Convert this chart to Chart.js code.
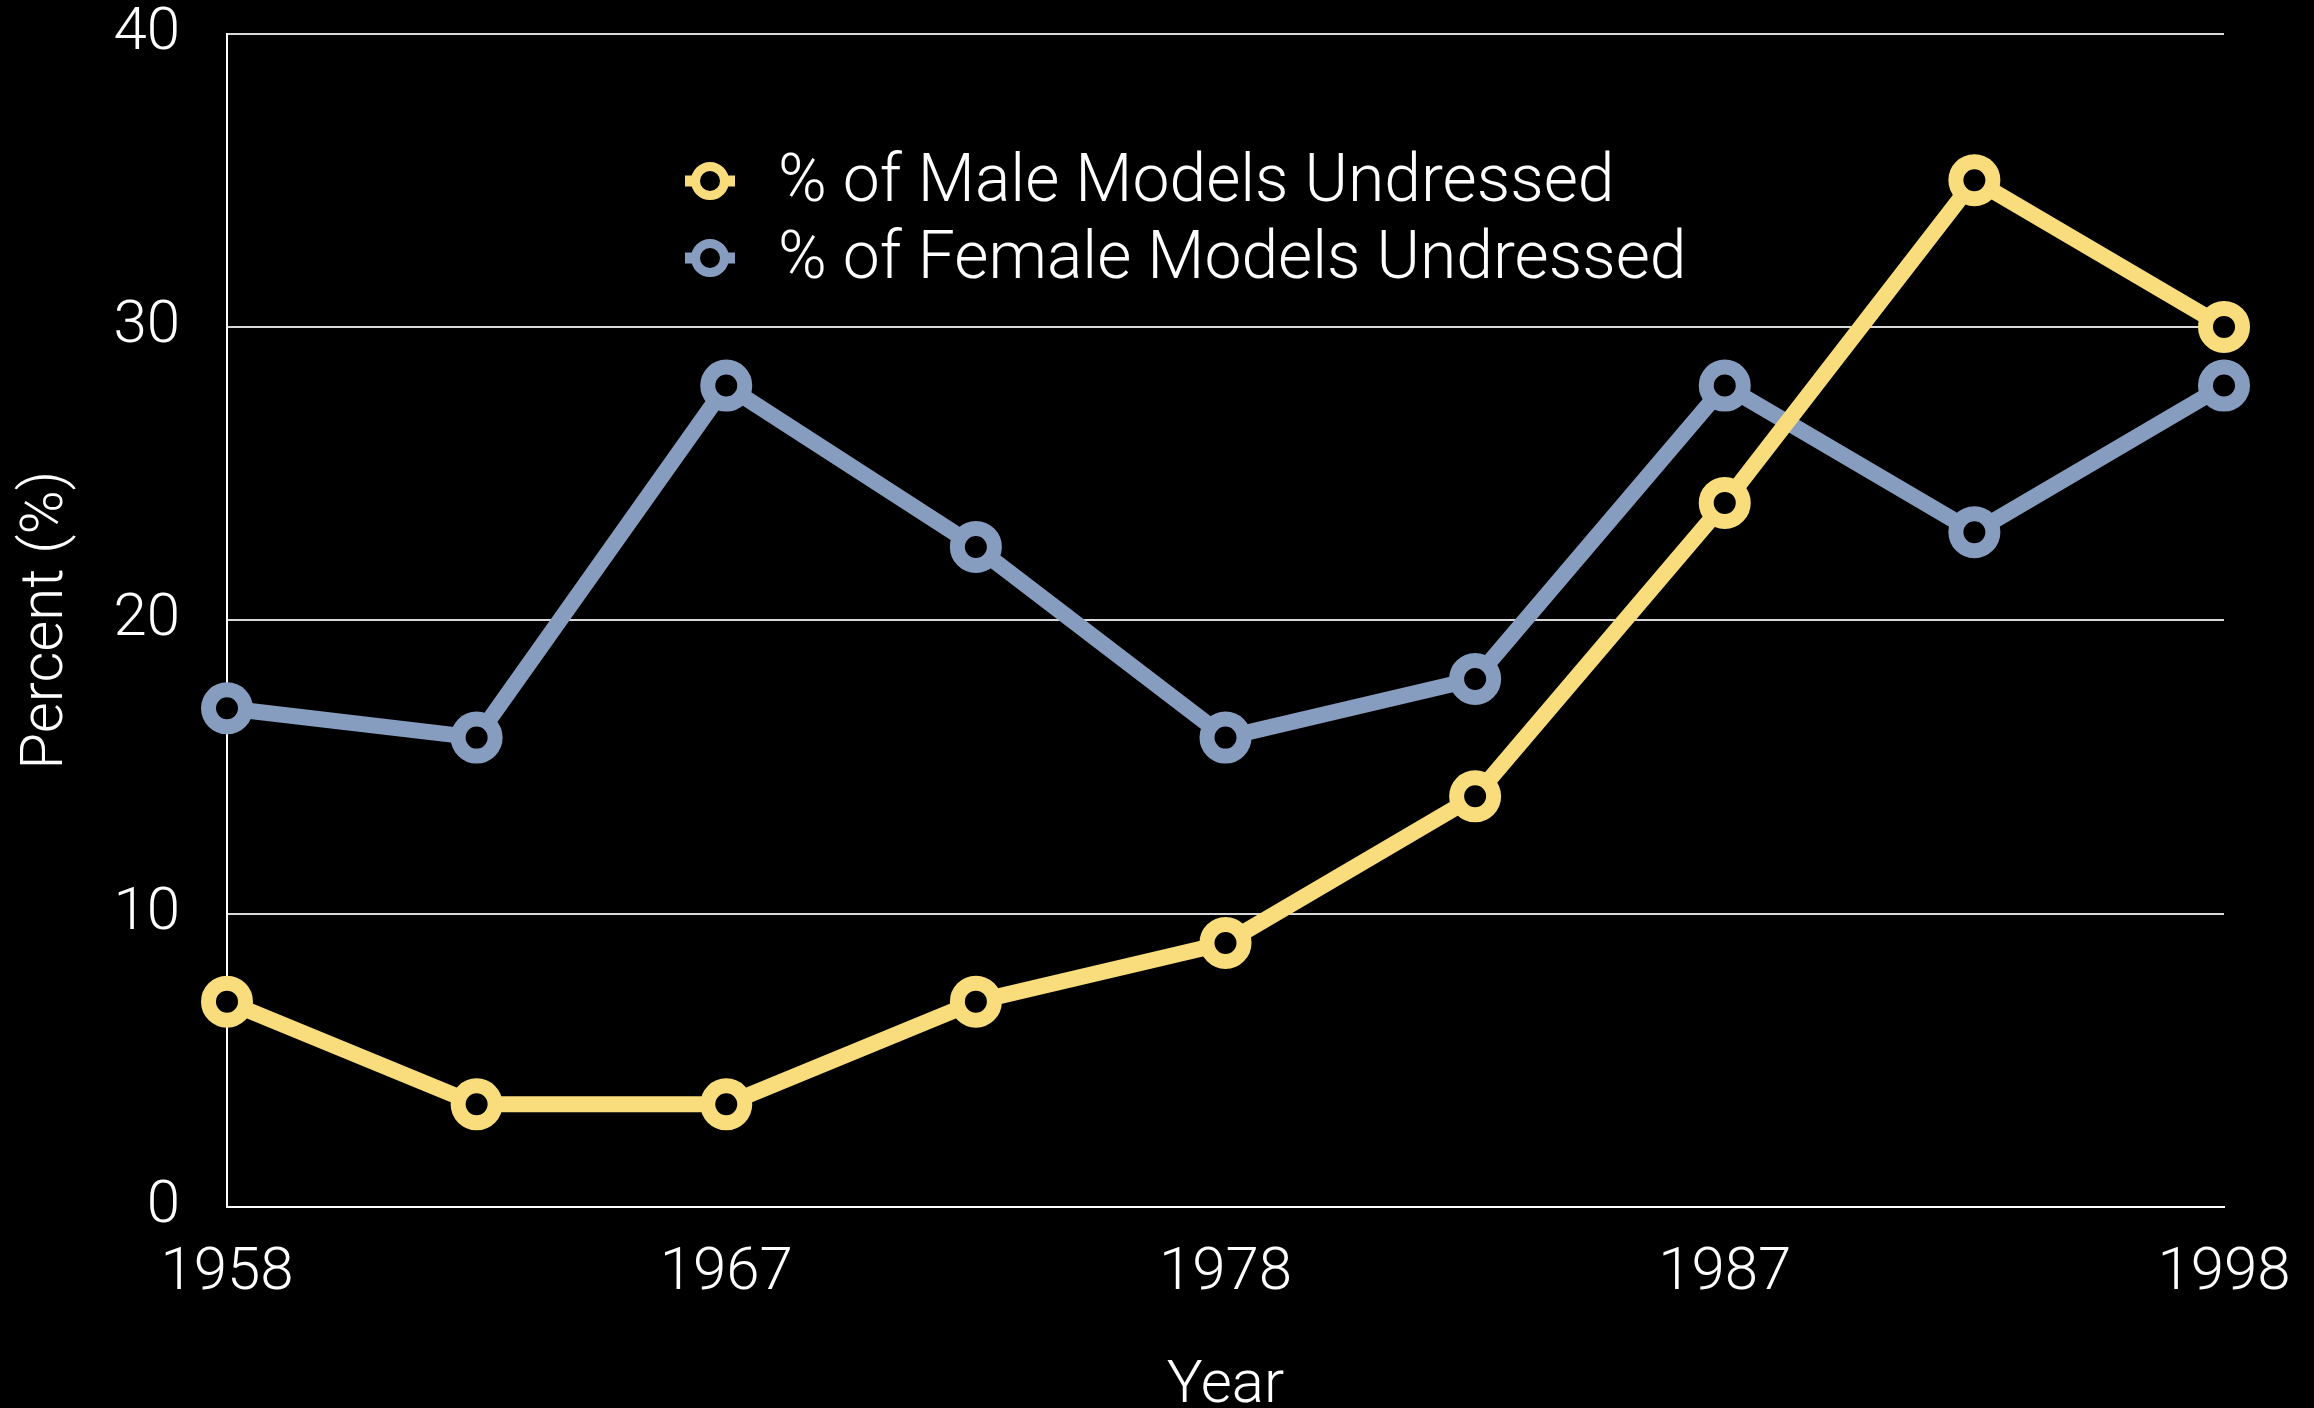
<!DOCTYPE html>
<html>
<head>
<meta charset="utf-8">
<script src="https://cdn.jsdelivr.net/npm/chart.js@4/dist/chart.umd.min.js"></script>
<style>
  html, body { margin: 0; padding: 0; background: #000; }
  #wrap { width: 2314px; height: 1408px; position: relative; }
  canvas { display: block; }
</style>
</head>
<body>
<div id="wrap"><canvas id="c" width="2314" height="1408"></canvas></div>
<script>
// ---- data ----
const xLabels = ['1958', '', '1967', '', '1978', '', '1987', '', '1998'];
const maleValues = [7, 3.5, 3.5, 7, 9, 14, 24, 35, 30];
const femaleValues = [17, 16, 28, 22.5, 16, 18, 28, 23, 28];
const yTicks = [0, 10, 20, 30, 40];
const seriesNames = ['% of Male Models Undressed', '% of Female Models Undressed'];
const xTitle = 'Year';
const yTitle = 'Percent (%)';

// ---- style ----
const FONT = 'Roboto, "Helvetica Neue", "Liberation Sans", sans-serif';
const YELLOW = '#F9DC7C';
const BLUE = '#879DC0';
const CLEAR = 'rgba(0,0,0,0)';

const legendPlugin = {
  id: 'insideLegend',
  afterDraw(chart) {
    const ctx = chart.ctx;
    const items = chart.data.datasets;
    const x0 = 710, rows = [181, 258], textX = 778;
    ctx.save();
    items.forEach((ds, i) => {
      const y = rows[i];
      ctx.strokeStyle = ds.borderColor;
      ctx.lineWidth = 11;
      ctx.beginPath();
      ctx.moveTo(x0 - 25, y);
      ctx.lineTo(x0 + 25, y);
      ctx.stroke();
      ctx.beginPath();
      ctx.arc(x0, y, 14.5, 0, Math.PI * 2);
      ctx.fillStyle = '#000';
      ctx.fill();
      ctx.lineWidth = 9;
      ctx.stroke();
      ctx.fillStyle = '#fff';
      ctx.font = '300 66px ' + FONT;
      ctx.textBaseline = 'middle';
      ctx.textAlign = 'left';
      ctx.fillText(ds.label, textX, y + 3);
    });
    ctx.restore();
  }
};

const mk = (label, data, color) => ({
  label, data,
  borderColor: color,
  backgroundColor: color,
  borderWidth: 16,
  pointRadius: 18.5,
  pointHoverRadius: 18.5,
  pointBorderWidth: 15,
  pointBackgroundColor: '#000',
  pointBorderColor: color,
  tension: 0,
  clip: false,
  fill: false
});

new Chart(document.getElementById('c'), {
  type: 'line',
  data: {
    labels: xLabels,
    datasets: [
      mk(seriesNames[0], maleValues, YELLOW),
      mk(seriesNames[1], femaleValues, BLUE)
    ]
  },
  options: {
    responsive: false,
    animation: false,
    devicePixelRatio: 1,
    layout: { padding: { top: 31, right: 90, left: 0, bottom: 0 } },
    plugins: { legend: { display: false }, tooltip: { enabled: false } },
    scales: {
      x: {
        type: 'category',
        offset: false,
        grid: { display: true, color: CLEAR, drawOnChartArea: false, drawTicks: true, tickLength: 37, tickColor: CLEAR },
        border: { display: true, color: '#ffffff', width: 2 },
        ticks: {
          color: '#ffffff', autoSkip: false, maxRotation: 0, minRotation: 0,
          padding: 0,
          font: { family: FONT, size: 60, weight: '300', lineHeight: 1.0 }
        },
        title: {
          display: true, text: xTitle, color: '#ffffff',
          font: { family: FONT, size: 60, weight: '300', lineHeight: 0.7 },
          padding: { top: 0, bottom: 0 }
        },
        afterFit(s) { s.height = 201; }
      },
      y: {
        min: 0, max: 40,
        grid: { color: '#d8d8d8', lineWidth: 2, drawTicks: true, tickLength: 47, tickColor: CLEAR },
        border: { display: true, color: '#ffffff', width: 2 },
        afterBuildTicks(s) { s.ticks = yTicks.map(v => ({ value: v })); },
        ticks: {
          color: '#ffffff', padding: 0,
          font: { family: FONT, size: 60, weight: '300', lineHeight: 1.0 }
        },
        title: {
          display: true, text: yTitle, color: '#ffffff',
          font: { family: FONT, size: 60, weight: '300', lineHeight: 1.0 },
          padding: { top: 17, bottom: 0 }
        },
        afterFit(s) { s.width = 227; }
      }
    }
  },
  plugins: [legendPlugin]
});
</script>
</body>
</html>
